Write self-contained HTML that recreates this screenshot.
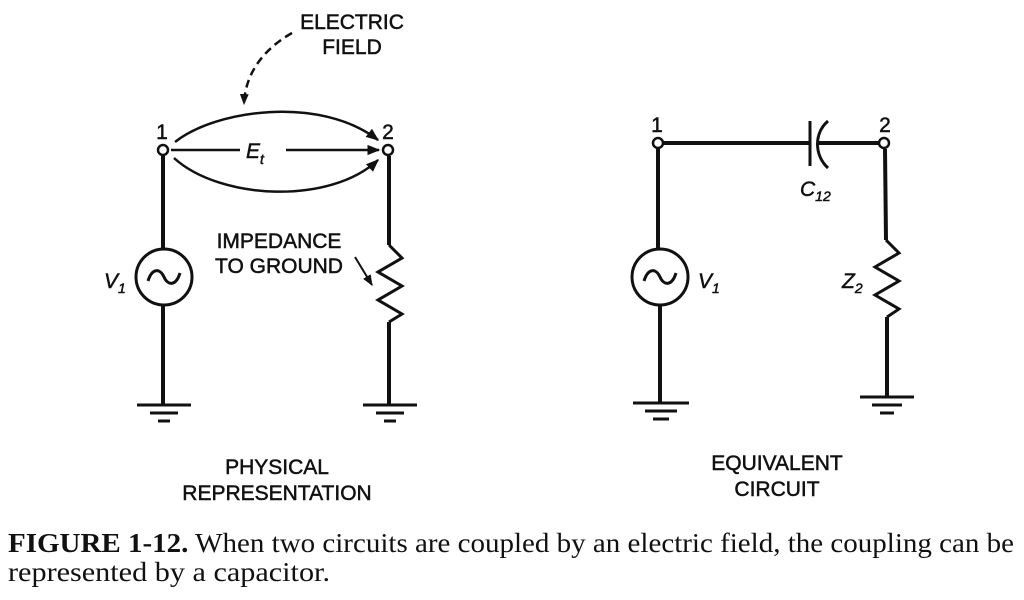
<!DOCTYPE html>
<html><head><style>html,body{margin:0;padding:0;background:#fff;width:1024px;height:600px;overflow:hidden}</style></head>
<body>
<svg width="1024" height="600" viewBox="0 0 1024 600" xmlns="http://www.w3.org/2000/svg">
<defs>
<marker id="ah" viewBox="0 0 10 10" refX="9" refY="5" markerWidth="13" markerHeight="13" markerUnits="userSpaceOnUse" orient="auto"><path d="M0,1 L10,5 L0,9 z" fill="#111"/></marker>
<marker id="ah2" viewBox="0 0 10 10" refX="9" refY="5" markerWidth="11" markerHeight="11" markerUnits="userSpaceOnUse" orient="auto"><path d="M0,1 L10,5 L0,9 z" fill="#111"/></marker>
</defs>
<g stroke="#111" fill="none" stroke-width="4">
<line x1="163" y1="156" x2="163" y2="249"/>
<line x1="163" y1="305" x2="163" y2="405"/>
<circle cx="164" cy="277" r="28" stroke-width="3"/>
<path d="M148,281 C152,268 160,268 164,277 C168,286 176,286 180,273" stroke-width="3"/>
<line x1="137" y1="405" x2="191" y2="405" stroke-width="3"/>
<line x1="150" y1="413" x2="178" y2="413" stroke-width="3"/>
<line x1="158" y1="421" x2="170" y2="421" stroke-width="3"/>
<line x1="389" y1="156" x2="389" y2="245"/>
<polyline points="389,245 402,258 378,272 402,286 378,300 402,314 389,322" stroke-width="3"/>
<line x1="389" y1="322" x2="389" y2="405"/>
<line x1="363" y1="405" x2="417" y2="405" stroke-width="3"/>
<line x1="376" y1="413" x2="404" y2="413" stroke-width="3"/>
<line x1="384" y1="421" x2="396" y2="421" stroke-width="3"/>
<path d="M175,142 C215,110 320,95 378,140" stroke-width="2.5" marker-end="url(#ah)"/>
<line x1="171" y1="150" x2="240" y2="150" stroke-width="2.5"/>
<line x1="286" y1="150" x2="379" y2="150" stroke-width="2.5" marker-end="url(#ah)"/>
<path d="M174,158 C220,200 330,205 378,160" stroke-width="2.5" marker-end="url(#ah)"/>
<path d="M292,33 C262,50 245,75 244,104" stroke-width="2.5" stroke-dasharray="8,5" marker-end="url(#ah2)"/>
<line x1="355" y1="257" x2="372" y2="285" stroke-width="2" marker-end="url(#ah2)"/>
<line x1="663" y1="143" x2="810" y2="143"/>
<line x1="818" y1="143" x2="879" y2="143"/>
<line x1="810" y1="121" x2="810" y2="166" stroke-width="3"/>
<path d="M828,121 C814,133 814,155 828,168" stroke-width="3"/>
<line x1="658" y1="149" x2="658" y2="249"/>
<line x1="660" y1="305" x2="660" y2="403"/>
<circle cx="660" cy="277" r="28" stroke-width="3"/>
<path d="M644,281 C648,268 656,268 660,277 C664,286 672,286 676,273" stroke-width="3"/>
<line x1="633" y1="403" x2="689" y2="403" stroke-width="3"/>
<line x1="645" y1="411" x2="677" y2="411" stroke-width="3"/>
<line x1="653" y1="419" x2="669" y2="419" stroke-width="3"/>
<line x1="885" y1="149" x2="886" y2="240"/>
<polyline points="886,240 899,253 875,267 899,281 875,295 899,309 887,317" stroke-width="3"/>
<line x1="887" y1="317" x2="887" y2="397"/>
<line x1="860" y1="397" x2="914" y2="397" stroke-width="3"/>
<line x1="872" y1="405" x2="902" y2="405" stroke-width="3"/>
<line x1="880" y1="413" x2="894" y2="413" stroke-width="3"/>
</g>
<g stroke="#111" stroke-width="2.5" fill="#fff">
<circle cx="163" cy="150" r="5"/><circle cx="388" cy="150" r="5"/>
<circle cx="658" cy="143" r="5"/><circle cx="884" cy="143" r="5"/>
</g>
<g font-family="Liberation Sans, sans-serif" fill="#111" font-size="21" stroke="#111" stroke-width="0.5">
<text x="162" y="139" text-anchor="middle">1</text>
<text x="388" y="139" text-anchor="middle">2</text>
<text x="657" y="132" text-anchor="middle">1</text>
<text x="885" y="132" text-anchor="middle">2</text>
<text x="352" y="29" text-anchor="middle">ELECTRIC</text>
<text x="352" y="54" text-anchor="middle">FIELD</text>
<text x="279" y="248" text-anchor="middle">IMPEDANCE</text>
<text x="279" y="273" text-anchor="middle">TO GROUND</text>
<text x="277" y="474" text-anchor="middle">PHYSICAL</text>
<text x="277" y="500" text-anchor="middle">REPRESENTATION</text>
<text x="777" y="470" text-anchor="middle">EQUIVALENT</text>
<text x="777" y="496" text-anchor="middle">CIRCUIT</text>
<text x="246" y="158" font-style="italic">E<tspan font-size="14" dy="6">t</tspan></text>
<text x="104" y="288" font-style="italic">V<tspan font-size="14" dy="5">1</tspan></text>
<text x="698" y="288" font-style="italic">V<tspan font-size="14" dy="5">1</tspan></text>
<text x="800" y="196" font-style="italic">C<tspan font-size="14" dy="5">12</tspan></text>
<text x="842" y="288" font-style="italic">Z<tspan font-size="14" dy="5">2</tspan></text>
</g>
<g font-family="Liberation Serif, serif" fill="#111" font-size="27">
<text x="8" y="552" textLength="1006" lengthAdjust="spacingAndGlyphs"><tspan font-weight="bold">FIGURE 1-12.</tspan>   When two circuits are coupled by an electric field, the coupling can be</text>
<text x="8" y="581" textLength="322" lengthAdjust="spacingAndGlyphs">represented by a capacitor.</text>
</g>
</svg>
</body></html>
